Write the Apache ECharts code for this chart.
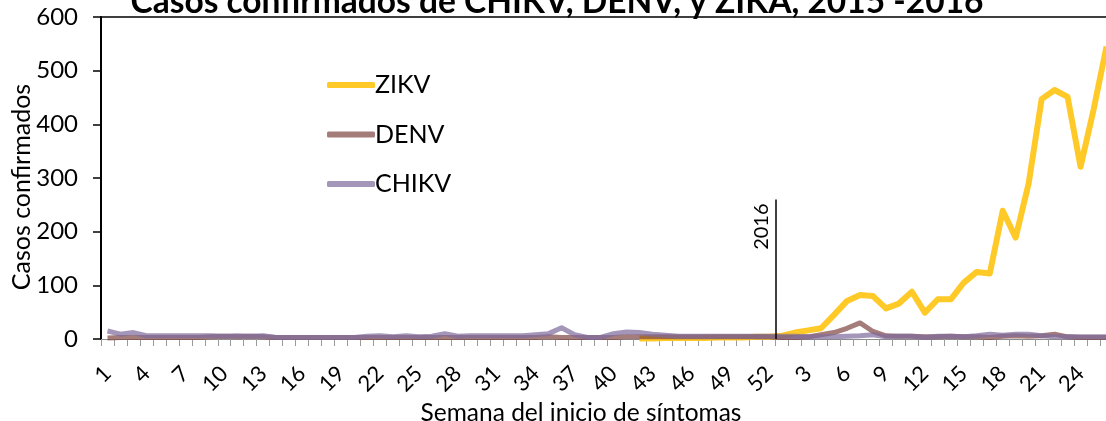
<!DOCTYPE html>
<html>
<head>
<meta charset="utf-8">
<script src="https://cdn.jsdelivr.net/npm/echarts@6/dist/echarts.min.js"></script>
<style>
  html, body { margin: 0; padding: 0; background: #fff; overflow: hidden; }
  #chart { width: 1120px; height: 421px; }
</style>
</head>
<body>
<div id="chart"></div>
<script>
// semanas: 1-52 de 2015, luego 1-26 de 2016
const weeks2015 = [];
for (let i = 1; i <= 52; i++) weeks2015.push(String(i));
const weeks2016 = [];
for (let i = 1; i <= 26; i++) weeks2016.push(String(i));
const categories = weeks2015.concat(weeks2016);

const zikv2015 = [null, null, null, null, null, null, null, null, null, null,
  null, null, null, null, null, null, null, null, null, null,
  null, null, null, null, null, null, null, null, null, null,
  null, null, null, null, null, null, null, null, null, null,
  null, 1, 1, 2, 2, 2, 2, 3, 3, 3, 4, 4];
const zikv2016 = [6, 12, 16, 20, 45, 71, 82, 80, 57, 66, 88, 49, 74, 74, 105, 125,
  122, 239, 189, 290, 447, 464, 451, 321, 427, 545];

const denv2015 = [2, 3, 3, 3, 3, 3, 3, 3, 4, 5, 4, 5, 4, 3, 3, 3, 3, 3, 3, 3,
  3, 3, 3, 3, 3, 3, 3, 3, 3, 3, 3, 3, 3, 3, 4, 3, 3, 3, 3, 3,
  4, 4, 4, 4, 4, 4, 4, 4, 4, 4, 4, 4];
const denv2016 = [3, 3, 4, 8, 12, 20, 30, 14, 6, 5, 5, 4, 4, 5, 4, 4,
  3, 5, 6, 5, 6, 9, 4, 3, 3, 3];

const chikv2015 = [15, 9, 12, 6, 6, 6, 6, 6, 6, 5, 6, 5, 6, 3, 3, 3, 3, 3, 3, 3,
  5, 6, 4, 6, 4, 5, 10, 5, 6, 6, 6, 6, 6, 8, 10, 21, 8, 3, 3, 10,
  13, 12, 9, 7, 5, 5, 5, 5, 5, 5, 5, 5];
const chikv2016 = [5, 5, 4, 4, 4, 5, 6, 8, 4, 5, 5, 3, 5, 5, 4, 6,
  9, 7, 9, 9, 6, 4, 4, 4, 4, 4];

const yTicks = [0, 100, 200, 300, 400, 500, 600];
const yearBreak = 52;      // limite entre semana 52 de 2015 y semana 1 de 2016
const yearMarkTop = 260;

const font = 'Lato';
const chart = echarts.init(document.getElementById('chart'));

chart.setOption({
  animation: false,
  title: [
    {
      text: 'Casos confirmados de CHIKV, DENV, y ZIKA, 2015 -2016',
      left: 552,
      top: -20,
      textAlign: 'center',
      textStyle: { fontFamily: font, fontSize: 33.5, fontWeight: 'bold', color: '#000' }
    },
    {
      text: 'Semana del inicio de síntomas',
      left: 576,
      top: 396,
      textAlign: 'center',
      textStyle: { fontFamily: font, fontSize: 24.5, fontWeight: 'normal', color: '#000' }
    }
  ],
  // titulo del eje Y, colocado como en el original (no centrado en el eje)
  graphic: [
    {
      type: 'text',
      x: 22,
      y: 187,
      rotation: Math.PI / 2,
      style: {
        text: 'Casos confirmados',
        fontFamily: font,
        fontSize: 25,
        fill: '#000',
        align: 'center',
        verticalAlign: 'middle'
      }
    }
  ],
  legend: {
    orient: 'vertical',
    left: 322,
    top: 67,
    itemWidth: 48,
    itemHeight: 6,
    itemGap: 23.5,
    icon: 'roundRect',
    data: ['ZIKV', 'DENV', 'CHIKV'],
    textStyle: { fontFamily: font, fontSize: 25, color: '#000', padding: [0, 0, 0, -5], lineHeight: 26 }
  },
  grid: { left: 101, top: 17, width: 1012, height: 322, outerBoundsMode: 'none' },
  xAxis: [
    {
      type: 'category',
      data: categories,
      boundaryGap: true,
      axisLine: { show: true, lineStyle: { color: '#8c8c8c', width: 1 } },
      axisTick: { show: true, interval: 0, length: 7, lineStyle: { color: '#9a9a9a', width: 1 } },
      axisLabel: {
        interval: 2,
        rotate: 45,
        margin: 31,
        fontFamily: font,
        fontSize: 22,
        color: '#000'
      },
      splitLine: { show: false }
    },
    {
      type: 'value',
      min: 0,
      max: categories.length,
      show: false
    },
    {
      type: 'value',
      position: 'top',
      min: 0,
      max: 1,
      axisLine: { show: true, onZero: false, lineStyle: { color: '#000', width: 1.5 } },
      axisTick: { show: false },
      axisLabel: { show: false },
      splitLine: { show: false }
    }
  ],
  yAxis: {
    type: 'value',
    min: yTicks[0],
    max: yTicks[yTicks.length - 1],
    interval: 100,
    axisLine: { show: true, lineStyle: { color: '#000', width: 2 } },
    axisTick: { show: true, length: 8, lineStyle: { color: '#000', width: 1.5 } },
    axisLabel: { margin: 23, fontFamily: font, fontSize: 24, color: '#000' },
    splitLine: { show: false }
  },
  series: [
    {
      name: 'ZIKV',
      type: 'line',
      data: zikv2015.concat(zikv2016),
      showSymbol: false,
      symbol: 'none',
      lineStyle: { width: 6, color: '#ffc928', join: 'round' },
      itemStyle: { color: '#ffc928' }
    },
    {
      name: 'DENV',
      type: 'line',
      data: denv2015.concat(denv2016),
      showSymbol: false,
      symbol: 'none',
      lineStyle: { width: 5, color: 'rgba(126,69,66,0.7)', join: 'round' },
      itemStyle: { color: 'rgba(126,69,66,0.7)' }
    },
    {
      name: 'CHIKV',
      type: 'line',
      data: chikv2015.concat(chikv2016),
      showSymbol: false,
      symbol: 'none',
      lineStyle: { width: 5, color: 'rgba(125,105,155,0.7)', join: 'round' },
      itemStyle: { color: 'rgba(125,105,155,0.7)' }
    },
    {
      name: 'year',
      type: 'line',
      xAxisIndex: 1,
      data: [],
      markLine: {
        silent: true,
        symbol: ['none', 'none'],
        lineStyle: { color: '#000', width: 1.5, type: 'solid' },
        label: {
          show: true,
          formatter: '2016',
          position: 'insideEndTop',
          distance: 4,
          fontFamily: font,
          fontSize: 20,
          color: '#000'
        },
        data: [[{ coord: [yearBreak, 0] }, { coord: [yearBreak, yearMarkTop] }]]
      }
    }
  ]
});
</script>
</body>
</html>
